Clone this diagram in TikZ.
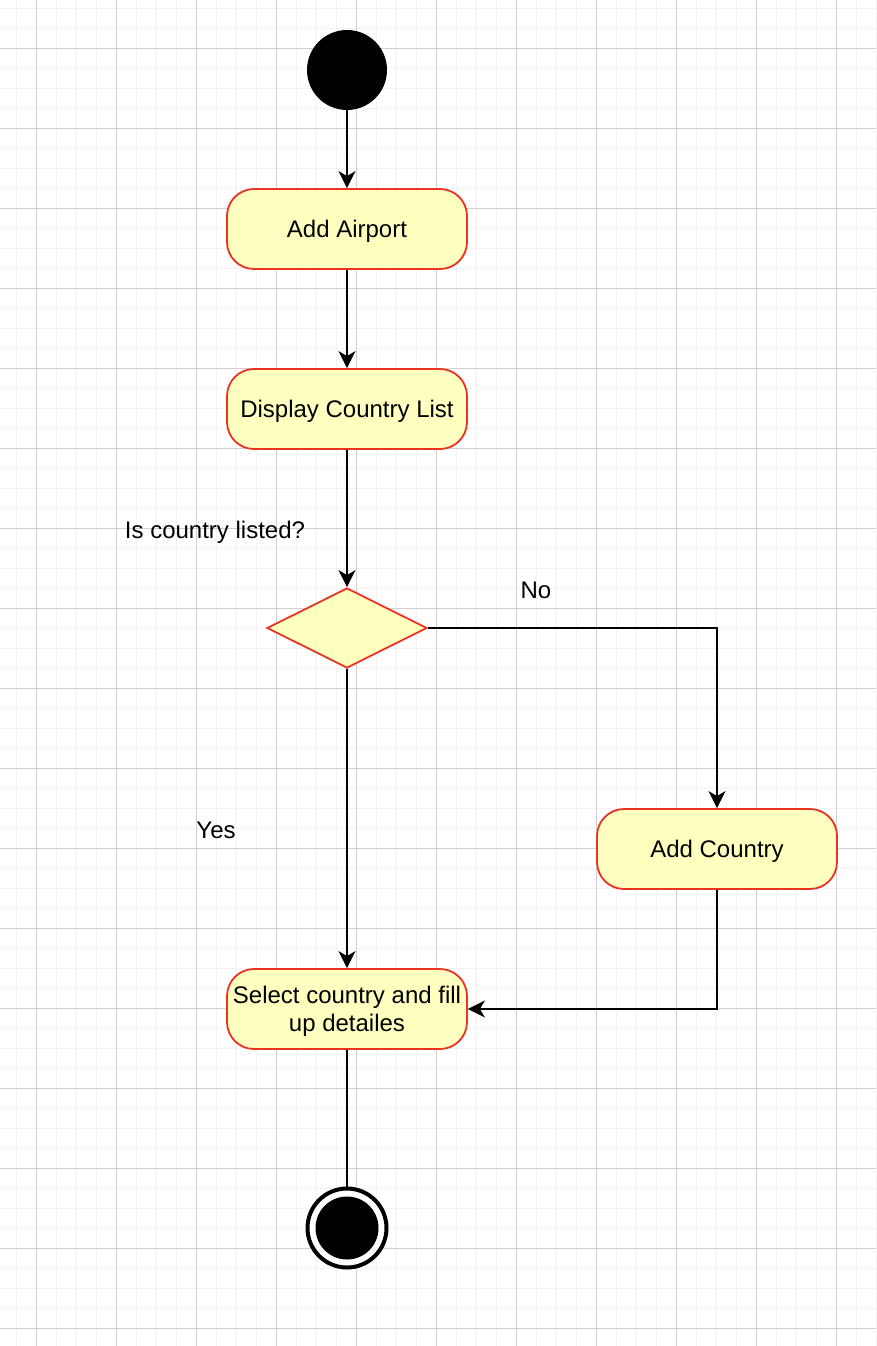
\documentclass[tikz,border=0pt]{standalone}
\usepackage{fontspec}
\setmainfont{Liberation Sans}
\usetikzlibrary{shapes.geometric,arrows.meta}
\definecolor{actfill}{HTML}{FFFFC0}
\definecolor{actdraw}{HTML}{EA3323}
\definecolor{minorgrid}{HTML}{F2F2F2}
\definecolor{majorgrid}{HTML}{D0D0D0}
\tikzset{
  gridminor/.style={draw=minorgrid, line width=1.2pt},
  gridmajor/.style={draw=majorgrid, line width=1pt},
  act/.style={rectangle, rounded corners=27pt, draw=actdraw, fill=actfill, line width=1.8pt,
    minimum width=240pt, minimum height=80pt, inner sep=0pt, align=center,
    text height=22pt, text depth=5pt,
    font=\fontsize{24}{28}\selectfont},
  decision/.style={diamond, aspect=2, draw=actdraw, fill=actfill, line width=1.8pt,
    minimum width=160pt, minimum height=80pt, inner sep=0pt},
  startnode/.style={circle, fill=black, minimum size=80pt, inner sep=0pt},
  endring/.style={circle, draw=black, line width=4pt, minimum size=79pt, inner sep=0pt, fill=white},
  enddot/.style={circle, fill=black, minimum size=63pt, inner sep=0pt},
  lbl/.style={font=\fontsize{24}{28}\selectfont, inner sep=0pt, text height=22pt, text depth=5pt},
  conn/.style={draw=black, line width=2pt},
  arr/.style={conn, -{Stealth[length=17pt, width=17pt, inset=5pt]}},
}
\begin{document}
\begin{tikzpicture}[x=1pt,y=-1pt]
\useasboundingbox (0,0) rectangle (876,1346);
\fill[white] (0,0) rectangle (876,1346);
% grid
\foreach \i in {0,...,43} { \draw[gridminor] ({16.7+20*\i},0) -- ++(0,1346); }
\foreach \i in {0,...,67} { \draw[gridminor] (0,{8.3+20*\i}) -- ++(876,0); }
\foreach \i in {0,...,10} { \draw[gridmajor] ({36.7+80*\i},0) -- ++(0,1346); }
\foreach \i in {0,...,16} { \draw[gridmajor] (0,{48.3+80*\i}) -- ++(876,0); }
% nodes
\node[startnode] (start) at (347,70) {};
\node[act] (airport) at (347,229) {Add Airport};
\node[act] (display) at (347,409) {Display Country List};
\node[decision] (dec) at (347,628) {};
\node[act] (addc) at (717,849) {Add Country};
\node[act, text height=50pt] (select) at (347,1009) {Select country and fill\\up detailes};
\node[endring] (end) at (347,1228) {};
\node[enddot] (enddot) at (end.center) {};
% labels
\node[lbl] (lq) at (215,530) {Is country listed?};
\node[lbl] (lno) at (536,590) {No};
\node[lbl] (lyes) at (216,830) {Yes};
% connectors
\draw[arr] (start) -- (airport);
\draw[arr] (airport) -- (display);
\draw[arr] (display) -- (dec);
\draw[arr] (dec.east) -| (addc.north);
\draw[arr] (dec.south) -- (select.north);
\draw[arr] (addc.south) |- (select.east);
\draw[conn] (select.south) -- (end.north);
\end{tikzpicture}
\end{document}
